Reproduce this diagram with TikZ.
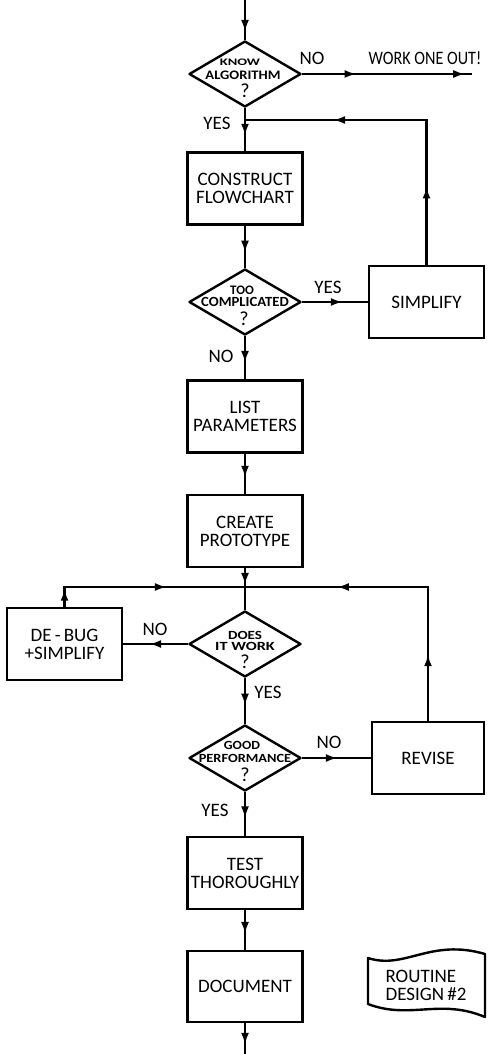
\documentclass[tikz,border=0pt]{standalone}
\usepackage{fontspec}
\setmainfont{Carlito}
\usetikzlibrary{shapes.geometric,arrows.meta,decorations.markings}
\newcommand{\hsc}[2]{\scalebox{#1}[1]{#2}}
\begin{document}
\begin{tikzpicture}[x=1pt,y=-1pt,
  box/.style={draw, line width=2.5pt, rectangle, minimum width=115pt, minimum height=72pt, inner sep=2pt, align=center, font=\fontsize{19}{18}\selectfont},
  dia/.style={draw, line width=2.4pt, diamond, minimum width=112pt, minimum height=66pt, inner sep=0pt, line join=round},
  conn/.style={line width=2.4pt},
  am/.style={postaction={decorate,decoration={markings,mark=at position #1 with {\arrow{Latex[length=12pt,width=8pt]}}}}},
  lab/.style={font=\fontsize{19}{19}\selectfont, anchor=base, inner sep=0pt},
  dtx/.style={font=\bfseries\fontsize{#1}{#1}\selectfont, anchor=base, inner sep=0pt, text height=0.62em, text depth=0pt},
  dq/.style={font=\fontsize{20}{20}\selectfont, anchor=base, inner sep=0pt, text height=0.62em, text depth=0pt}
]
\useasboundingbox (0,0) rectangle (497,1054);

% coordinates
\coordinate (top) at (245,0);
\coordinate (wo) at (472,74);
\coordinate (m1) at (245,120);
\coordinate (m2) at (245,587);
\coordinate (bot) at (245,1054);

% decisions
\node[dia] (d1) at (245,74) {};
\node[dia] (d2) at (245,302) {};
\node[dia] (d3) at (245,644) {};
\node[dia] (d4) at (245,758) {};

\node[dtx=10] at (240,66) {\hsc{1.45}{KNOW}};
\node[dtx=13] at (243,80) {\hsc{1.12}{ALGORITHM}};
\node[dq] at (245,98) {?};

\node[dtx=13] at (242,294) {TOO};
\node[dtx=14] at (245,306) {\hsc{1.05}{COMPLICATED}};
\node[dq] at (244,325) {?};

\node[dtx=12.5] at (245,639) {\hsc{1.2}{DOES}};
\node[dtx=12.5] at (245,650) {\hsc{1.3}{IT WORK}};
\node[dq] at (245,668) {?};

\node[dtx=12.5] at (242,749) {\hsc{1.1}{GOOD}};
\node[dtx=12.5] at (245,762) {\hsc{1.15}{PERFORMANCE}};
\node[dq] at (245,781) {?};

% boxes
\node[box] (cf) at (245,188.5) {CONSTRUCT\\FLOWCHART};
\node[box] (sim) at (426.5,302) {SIMPLIFY};
\node[box] (lp) at (245,416.5) {LIST\\PARAMETERS};
\node[box] (cp) at (245,531) {CREATE\\PROTOTYPE};
\node[box] (db) at (64.5,644) {DE\,-\,BUG\\+SIMPLIFY};
\node[box, minimum width=112pt] (rv) at (428,758) {REVISE};
\node[box] (tt) at (245,873) {TEST\\THOROUGHLY};
\node[box, minimum height=71pt] (doc) at (245,986.5) {DOCUMENT};

% flag
\draw[line width=2.4pt, line join=round] (368,958) .. controls (405,970) and (430,938) .. (485,954) -- (485,1017) .. controls (440,998) and (410,1020) .. (368,1004) -- cycle;
\node[font=\fontsize{19}{18}\selectfont, align=left, inner sep=0pt] (rd) at (426,985) {ROUTINE\\DESIGN\,\#2};

% labels
\node[lab] at (312,65) {NO};
\node[lab] at (425,65) {\hsc{0.85}{WORK ONE OUT!}};
\node[lab] at (217,130) {YES};
\node[lab] at (328,293) {YES};
\node[lab] at (221,362) {NO};
\node[lab] at (155,635) {NO};
\node[lab] at (268,698) {YES};
\node[lab] at (329,748) {NO};
\node[lab] at (215,816) {YES};

% connectors
\draw[conn, am=0.8] (top) -- (d1.north);
\draw[conn, am=0.32, am=0.96] (d1.east) -- (wo);
\draw[conn, am=0.64] (d1.south) -- (cf.north);
\draw[conn, am=0.24, am=0.73] (sim.north) |- (m1);
\draw[conn, am=0.64] (cf.south) -- (d2.north);
\draw[conn, am=0.62] (d2.east) -- (sim.west);
\draw[conn, am=0.62] (d2.south) -- (lp.north);
\draw[conn, am=0.6] (lp.south) -- (cp.north);
\draw[conn, am=0.4] (cp.south) -- (d3.north);
\draw[conn, am=0.09, am=0.61] (db.north) |- (m2);
\draw[conn, am=0.21, am=0.71] (rv.north) |- (m2);
\draw[conn, am=0.6] (d3.west) -- (db.east);
\draw[conn, am=0.6] (d3.south) -- (d4.north);
\draw[conn, am=0.52] (d4.east) -- (rv.west);
\draw[conn, am=0.6] (d4.south) -- (tt.north);
\draw[conn, am=0.6] (tt.south) -- (doc.north);
\draw[conn, am=0.7] (doc.south) -- (bot);
\end{tikzpicture}
\end{document}
